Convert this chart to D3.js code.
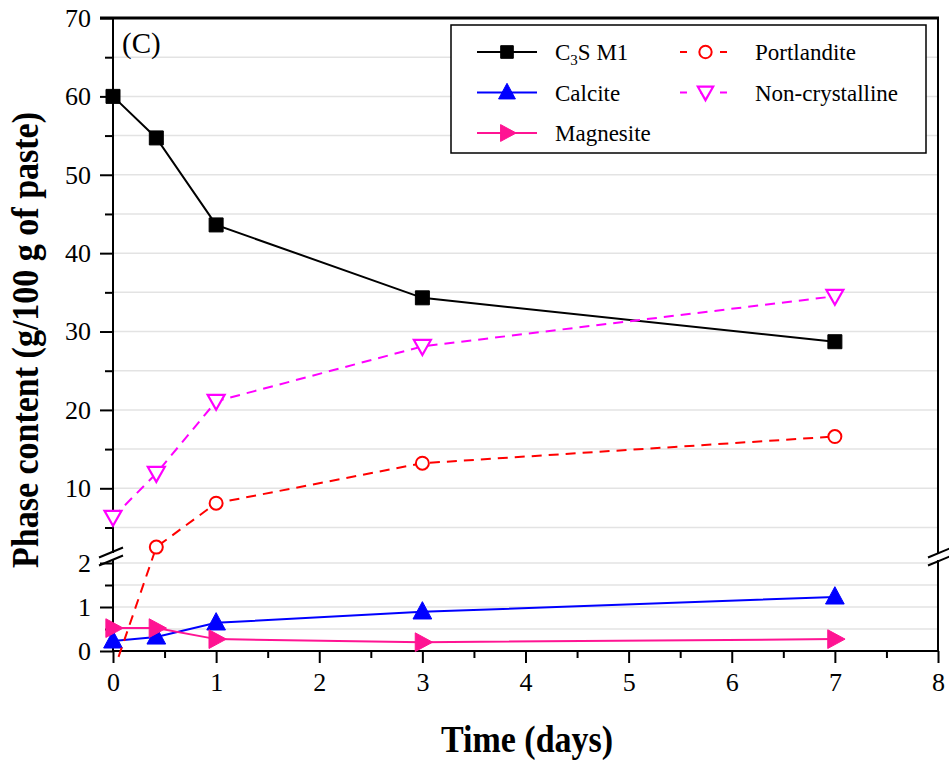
<!DOCTYPE html>
<html>
<head>
<meta charset="utf-8">
<script src="https://cdn.jsdelivr.net/npm/d3@7"></script>
<style>
  body { margin: 0; background: #fff; }
  svg { display: block; font-family: "Liberation Serif", "Times New Roman", serif; }
</style>
</head>
<body>
<script>
// data
var days = [0, 0.42, 1, 3, 7];
var c3s = [60, 54.7, 43.6, 34.3, 28.7];
var calcite = [0.23, 0.32, 0.64, 0.89, 1.23];
var magnesite = [0.52, 0.52, 0.27, 0.2, 0.27];
var portlandite = [-0.5, 2.5, 8.1, 13.2, 16.6]; // first point sits below the axis in the figure
var noncryst = [6.3, 11.9, 21.1, 28.1, 34.5];
var xTicks = [0, 1, 2, 3, 4, 5, 6, 7, 8];
var yTicksUpper = [10, 20, 30, 40, 50, 60, 70];
var yTicksLower = [0, 1, 2];

(function() {
var width = 949, height = 760,
  pLeft = 113, pRight = 938, pTop = 18, pBottom = 651,
  breakVal = 2;

var svg = d3.select("body").append("svg")
  .attr("width", width)
  .attr("height", height);

var x = d3.scaleLinear().domain([0, 8]).range([pLeft, pRight]);
var yUp = d3.scaleLinear().domain([breakVal, 70]).range([551, pTop]);
var yLo = d3.scaleLinear().domain([0, breakVal]).range([pBottom, 563]);
function y(v) { return v > breakVal ? yUp(v) : yLo(v); }

svg.append("clipPath").attr("id", "plotclip")
  .append("rect").attr("x", pLeft - 14).attr("y", pTop - 14)
  .attr("width", pRight - pLeft + 28).attr("height", pBottom - pTop + 25);

// gridlines
var grid = svg.append("g").attr("stroke", "#e3e3e3").attr("stroke-width", 1.5);
d3.range(5, 70, 5).forEach(function(v) {
  grid.append("line").attr("x1", pLeft).attr("x2", pRight).attr("y1", yUp(v)).attr("y2", yUp(v));
});
[0.5, 1, 1.5, 2].forEach(function(v) {
  grid.append("line").attr("x1", pLeft).attr("x2", pRight).attr("y1", yLo(v)).attr("y2", yLo(v));
});

// axes
var axisUp = d3.axisLeft(yUp).tickValues(yTicksUpper).tickSize(13).tickPadding(9).tickFormat(d3.format("d"));
var axisUpMinor = d3.axisLeft(yUp).tickValues(d3.range(5, 70, 10)).tickSize(8).tickFormat("");
var axisLo = d3.axisLeft(yLo).tickValues(yTicksLower).tickSize(13).tickPadding(9).tickFormat(d3.format("d"));
var axisLoMinor = d3.axisLeft(yLo).tickValues([0.5, 1.5]).tickSize(8).tickFormat("");
var axisX = d3.axisBottom(x).tickValues(xTicks).tickSize(12).tickPadding(10).tickFormat(d3.format("d"));
var axisXMinor = d3.axisBottom(x).tickValues(d3.range(0.5, 8, 1)).tickSize(7).tickFormat("");

function styleAxis(g) {
  g.select(".domain").remove();
  g.selectAll(".tick line").attr("stroke", "#000").attr("stroke-width", 2);
  g.selectAll(".tick text").attr("fill", "#000").style("font-size", "26px")
    .style("font-family", "Liberation Serif, serif");
}
svg.append("g").attr("transform", "translate(" + pLeft + ",0)").call(axisUp).call(styleAxis);
svg.append("g").attr("transform", "translate(" + pLeft + ",0)").call(axisUpMinor).call(styleAxis);
svg.append("g").attr("transform", "translate(" + pLeft + ",0)").call(axisLo).call(styleAxis);
svg.append("g").attr("transform", "translate(" + pLeft + ",0)").call(axisLoMinor).call(styleAxis);
svg.append("g").attr("transform", "translate(0," + pBottom + ")").call(axisX).call(styleAxis);
svg.append("g").attr("transform", "translate(0," + pBottom + ")").call(axisXMinor).call(styleAxis);

// frame lines
var frame = svg.append("g").attr("stroke", "#000").attr("stroke-width", 2).attr("fill", "none");
frame.append("line").attr("x1", pLeft).attr("x2", pLeft).attr("y1", pTop).attr("y2", pBottom);
frame.append("line").attr("x1", pLeft - 13).attr("x2", pRight + 1).attr("y1", pTop).attr("y2", pTop).attr("stroke-width", 3);
frame.append("line").attr("x1", pRight).attr("x2", pRight).attr("y1", pTop).attr("y2", pBottom);
frame.append("line").attr("x1", pLeft).attr("x2", pRight).attr("y1", pBottom).attr("y2", pBottom);

// axis break marks
function drawBreak(cx) {
  var g = svg.append("g");
  g.append("rect").attr("x", cx - 12).attr("y", 553).attr("width", 24).attr("height", 7).attr("fill", "#fff");
  [552.5, 560.5].forEach(function(yy) {
    g.append("line").attr("x1", cx - 12).attr("x2", cx + 12)
      .attr("y1", yy + 5).attr("y2", yy - 5)
      .attr("stroke", "#000").attr("stroke-width", 2);
  });
}

// series
var series = [
  { name: "c3s", values: c3s, color: "#000000", dash: null, marker: "square", fill: true },
  { name: "calcite", values: calcite, color: "#0000ff", dash: null, marker: "triUp", fill: true },
  { name: "magnesite", values: magnesite, color: "#ff1493", dash: null, marker: "triRight", fill: true },
  { name: "portlandite", values: portlandite, color: "#ff0000", dash: "10,7", marker: "circle", fill: false },
  { name: "noncryst", values: noncryst, color: "#ff00ff", dash: "10,7", marker: "triDown", fill: false }
];

var line = d3.line()
  .x(function(d) { return x(d[0]); })
  .y(function(d) { return y(d[1]); });

function markerPath(type, s) {
  if (type == "square") return "M" + (-s/2) + "," + (-s/2) + "h" + s + "v" + s + "h" + (-s) + "Z";
  if (type == "triUp") return "M0," + (-s*0.6) + "L" + (s*0.55) + "," + (s*0.42) + "L" + (-s*0.55) + "," + (s*0.42) + "Z";
  if (type == "triDown") return "M0," + (s*0.5) + "L" + (s*0.5) + "," + (-s*0.38) + "L" + (-s*0.5) + "," + (-s*0.38) + "Z";
  if (type == "triRight") return "M" + (s*0.6) + ",0L" + (-s*0.42) + "," + (s*0.55) + "L" + (-s*0.42) + "," + (-s*0.55) + "Z";
  return null;
}

function drawMarker(g, sr, px, py, scale) {
  scale = scale || 1;
  if (sr.marker == "circle") {
    g.append("circle").attr("cx", px).attr("cy", py).attr("r", 6.5 * scale)
      .attr("fill", "#fff").attr("stroke", sr.color).attr("stroke-width", 2);
  } else {
    var size = sr.marker == "square" ? 14 : 17;
    g.append("path").attr("d", markerPath(sr.marker, size * scale))
      .attr("transform", "translate(" + px + "," + py + ")")
      .attr("fill", sr.fill ? sr.color : "#fff")
      .attr("stroke", sr.color).attr("stroke-width", sr.fill ? 1 : 2.2);
  }
}

var plot = svg.append("g").attr("clip-path", "url(#plotclip)");
series.forEach(function(sr) {
  var pts = days.map(function(d, i) { return [d, sr.values[i]]; });
  var g = plot.append("g");
  g.append("path").datum(pts).attr("d", line)
    .attr("fill", "none").attr("stroke", sr.color).attr("stroke-width", 2)
    .attr("stroke-dasharray", sr.dash);
  pts.forEach(function(p) { drawMarker(g, sr, x(p[0]), y(p[1])); });
});

drawBreak(pLeft - 2);
drawBreak(pRight + 2);

// panel label
svg.append("text").attr("x", 122).attr("y", 53).style("font-size", "29px").text("(C)");

// legend
var lg = svg.append("g");
lg.append("rect").attr("x", 451).attr("y", 25).attr("width", 475).attr("height", 128)
  .attr("fill", "#fff").attr("stroke", "#000").attr("stroke-width", 1.5);
var legendItems = [
  { sr: series[0], col: 0, row: 0, label: "C3S M1" },
  { sr: series[1], col: 0, row: 1, label: "Calcite" },
  { sr: series[2], col: 0, row: 2, label: "Magnesite" },
  { sr: series[3], col: 1, row: 0, label: "Portlandite" },
  { sr: series[4], col: 1, row: 1, label: "Non-crystalline" }
];
legendItems.forEach(function(it) {
  var lx0 = it.col == 0 ? 477 : 680,
    lx1 = it.col == 0 ? 537 : 731,
    ly = 52 + it.row * 40.5;
  lg.append("line").attr("x1", lx0).attr("x2", lx1).attr("y1", ly).attr("y2", ly)
    .attr("stroke", it.sr.color).attr("stroke-width", 2)
    .attr("stroke-dasharray", it.sr.dash ? "7,13" : null);
  drawMarker(lg, it.sr, (lx0 + lx1) / 2, ly, it.sr.marker == "circle" ? 0.95 : 0.9);
  var t = lg.append("text").attr("x", it.col == 0 ? 555 : 755).attr("y", ly + 8).style("font-size", "23px");
  if (it.label == "C3S M1") {
    t.append("tspan").text("C");
    t.append("tspan").attr("dy", 5).style("font-size", "15px").text("3");
    t.append("tspan").attr("dy", -5).text("S M1");
  } else {
    t.text(it.label);
  }
});

// axis titles
svg.append("text").attr("transform", "translate(527,752) scale(1,1.1)").attr("text-anchor", "middle")
  .style("font-size", "34px").style("font-weight", "bold").text("Time (days)");
svg.append("text").attr("transform", "translate(38,340) rotate(-90) scale(1,1.1)").attr("text-anchor", "middle")
  .style("font-size", "34px").style("font-weight", "bold").text("Phase content (g/100 g of paste)");
})();
</script>
</body>
</html>
